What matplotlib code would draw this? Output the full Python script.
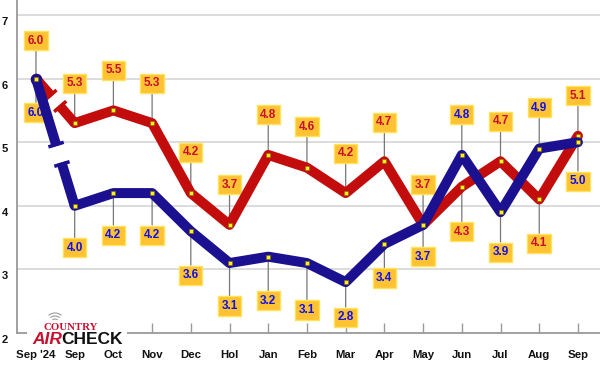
import matplotlib
matplotlib.use("Agg")
import matplotlib.pyplot as plt
import numpy as np
from matplotlib.patches import Arc, Rectangle
from matplotlib.transforms import IdentityTransform, ScaledTranslation, blended_transform_factory

# ---------------- data ----------------
categories = ["Sep '24", "Sep", "Oct", "Nov", "Dec", "Hol", "Jan", "Feb", "Mar",
              "Apr", "May", "Jun", "Jul", "Aug", "Sep"]
red_values = [6.0, 5.3, 5.5, 5.3, 4.2, 3.7, 4.8, 4.6, 4.2, 4.7, 3.7, 4.3, 4.7, 4.1, 5.1]
blue_values = [6.0, 4.0, 4.2, 4.2, 3.6, 3.1, 3.2, 3.1, 2.8, 3.4, 3.7, 4.8, 3.9, 4.9, 5.0]
y_ticks = [2, 3, 4, 5, 6, 7]

# ---------------- layout / style ----------------
red_label_off = [-38, -40, -40, -40, -41, -40, -40, -41, -40, -39, -40, 45, -40, 44, -40]
blue_label_off = [34, 42, 42, 42, 44, 43, 44, 47, 35, 34, 32, -40, 40, -41, 39]
RED = "#c30d0d"
BLUE = "#1a1090"
RED_TXT = "#c8102e"
BLUE_TXT = "#1010e8"
BOX_FC = "#ffc232"
BOX_EC = "#ffe45a"
PX = 0.72  # points per pixel at dpi 100

W, H = 600, 367
fig = plt.figure(figsize=(W / 100, H / 100), dpi=100)
fig.patch.set_facecolor("white")
ax = fig.add_axes([17 / W, 34 / H, 583 / W, 333 / H])
ax.set_facecolor("white")

x = np.arange(len(categories))
ax.set_xlim(-0.49, 14.57)
ax.set_ylim(2, 2 + 333 / 63.6)

# grid
for yv in y_ticks[1:]:
    ax.axhline(yv, color="#d6d6d6", lw=1.2, zorder=0)

for s in ["top", "right"]:
    ax.spines[s].set_visible(False)
for s in ["left", "bottom"]:
    ax.spines[s].set_color("#9a9a9a")
    ax.spines[s].set_linewidth(1.3)

ax.set_xticks(x)
ax.set_xticklabels([])
ax.tick_params(axis="x", direction="in", length=10 * PX, width=1, color="#9a9a9a")
ax.set_yticks([])

# y tick labels
ytrans = blended_transform_factory(fig.transFigure, ax.transData) + ScaledTranslation(0, -7 / 100, fig.dpi_scale_trans)
for yv in y_ticks:
    ax.text(5 / W, yv, str(yv), transform=ytrans, ha="center", va="center",
            fontsize=8, fontweight="bold", family="Liberation Sans", color="#111111")

# x labels
xtrans = blended_transform_factory(ax.transData, ax.transAxes) + ScaledTranslation(0, -22 / 100, fig.dpi_scale_trans)
for xi, lab in zip(x, categories):
    ax.text(xi, 0, lab, transform=xtrans, ha="center", va="center", fontsize=8.2,
            fontweight="bold", family="Liberation Sans", color="#111111")

fig.canvas.draw()


def draw_series(vals, color, z, gap):
    lw = 10 * PX
    ax.plot(x[1:], vals[1:], color=color, lw=lw, solid_capstyle="round",
            solid_joinstyle="round", zorder=z)
    p0 = np.array([x[0], vals[0]], float)
    p1 = np.array([x[1], vals[1]], float)
    d0 = ax.transData.transform(p0)
    d1 = ax.transData.transform(p1)
    t1, t2 = gap
    a = d0 + (d1 - d0) * t1
    b = d0 + (d1 - d0) * t2
    inv = ax.transData.inverted()
    for s, e in [(d0, a), (b, d1)]:
        ps, pe = inv.transform(s), inv.transform(e)
        ax.plot([ps[0], pe[0]], [ps[1], pe[1]], color=color, lw=lw,
                solid_capstyle="butt", zorder=z)
    ax.plot([p0[0]], [p0[1]], "o", ms=lw, color=color, zorder=z)
    v = (d1 - d0) / np.linalg.norm(d1 - d0)
    n = np.array([-v[1], v[0]])
    for c in [a - v * 1.5, b + v * 1.5]:
        c1 = inv.transform(c + n * 8)
        c2 = inv.transform(c - n * 8)
        ax.plot([c1[0], c2[0]], [c1[1], c2[1]], color=color, lw=3.5 * PX,
                solid_capstyle="butt", zorder=z)
    ax.plot(x, vals, ls="none", marker="s", ms=3.2, mfc="#ffee22", mec="#7a6a00",
            mew=0.4, zorder=z + 0.5)


draw_series(red_values, RED, 4, (0.40, 0.60))
draw_series(blue_values, BLUE, 6, (0.53, 0.66))


def labels(vals, offs, tcolor):
    for xi, v, off in zip(x, vals, offs):
        ax.annotate(f"{v:.1f}", xy=(xi, v), xytext=(0, -off * PX), textcoords="offset points",
                    ha="center", va="center", fontsize=8.5, fontweight="bold",
                    family="Liberation Sans", color=tcolor, zorder=2,
                    bbox=dict(boxstyle="square,pad=0.3", fc=BOX_FC, ec=BOX_EC, lw=1),
                    arrowprops=dict(arrowstyle="-", color="#777777", lw=0.9,
                                    shrinkA=0, shrinkB=0))


labels(red_values, red_label_off, RED_TXT)
labels(blue_values, blue_label_off, BLUE_TXT)

# logo
fig.add_artist(Rectangle((27 / W, (H - 347) / H), 100 / W, 27 / H, transform=fig.transFigure,
                         fc="white", ec="none", zorder=10))
fig.text(71 / W, (H - 328) / H, "COUNTRY", ha="center", va="center", fontsize=7.8,
         fontweight="bold", family="Liberation Serif", color="#c8102e", zorder=11)
fig.text(62 / W, (H - 339) / H, "AIR", ha="right", va="center", fontsize=12.5,
         fontweight="bold", style="italic", family="Liberation Sans", color="#c8102e", zorder=11)
fig.text(61 / W, (H - 339) / H, "CHECK", ha="left", va="center", fontsize=12.5,
         fontweight="bold", family="Liberation Sans", color="#111111", zorder=11)
for r in [4, 7, 10]:
    fig.add_artist(Arc((55, H - 323), 2 * r, 2 * r, theta1=50, theta2=130,
                       transform=IdentityTransform(), color="#9a9a9a", lw=0.8, zorder=11))

fig.savefig("out.png", dpi=100, facecolor="white")
